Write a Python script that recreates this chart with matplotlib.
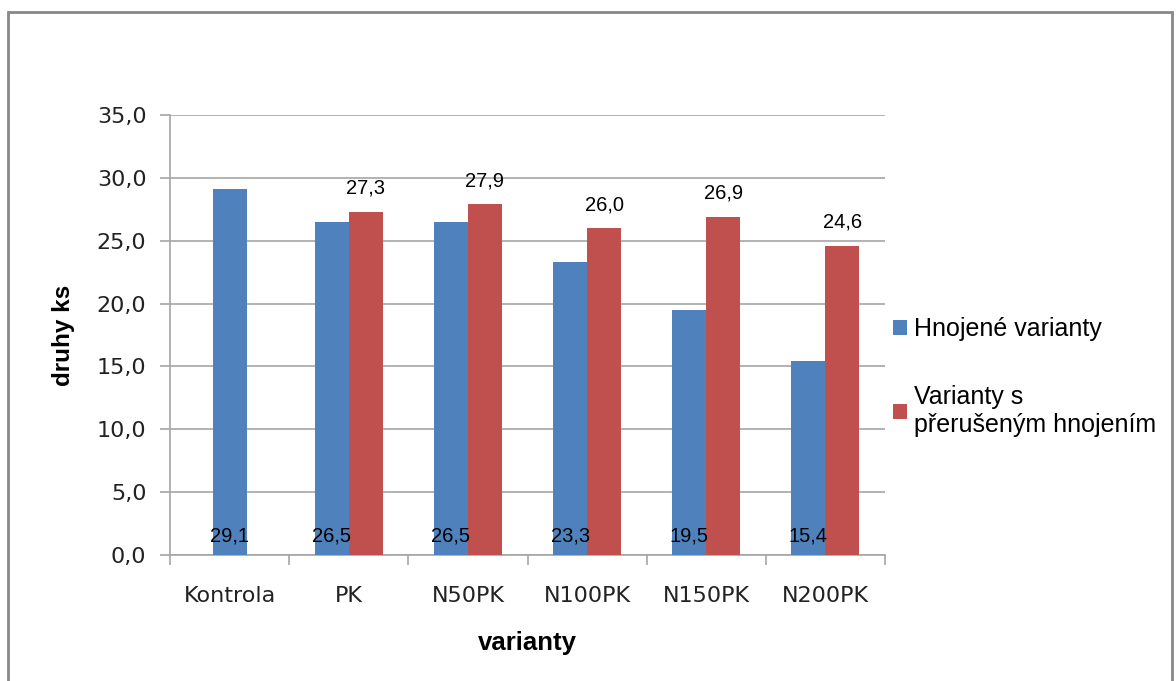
import numpy as np
import matplotlib.pyplot as plt
from matplotlib.patches import Rectangle

# data
categories = ['Kontrola', 'PK', 'N50PK', 'N100PK', 'N150PK', 'N200PK']
hnojene = [29.1, 26.5, 26.5, 23.3, 19.5, 15.4]
preruseno = [np.nan, 27.3, 27.9, 26.0, 26.9, 24.6]
series_names = ['Hnojené varianty', 'Varianty s\npřerušeným hnojením']

blue = '#4F81BD'
red = '#C0504D'
gridc = '#A6A6A6'

fig = plt.figure(figsize=(11.76, 6.81), dpi=100)
ax = fig.add_axes([170/1176, 1-555/681, (885-170)/1176, (555-115)/681])

x = np.arange(len(categories))
w = 0.285
pos_b = x.astype(float)
pos_b[1:] = x[1:] - w/2
pos_r = x + w/2

ax.bar(pos_b, hnojene, w, color=blue, label=series_names[0], zorder=3)
ax.bar(pos_r, preruseno, w, color=red, label=series_names[1], zorder=3)

# popisky hodnot
for xi, v in zip(pos_b, hnojene):
    ax.annotate(f'{v:.1f}'.replace('.', ','), (xi, 0), xytext=(0, 7), textcoords='offset points',
                ha='center', va='bottom', fontsize=14.5, family='Liberation Sans', zorder=4)
for xi, v in zip(pos_r, preruseno):
    if not np.isnan(v):
        ax.annotate(f'{v:.1f}'.replace('.', ','), (xi, v), xytext=(0, 10), textcoords='offset points',
                    ha='center', va='bottom', fontsize=14.5, family='Liberation Sans', zorder=4)

ax.set_ylim(0, 35)
ax.set_xlim(-0.5, len(categories) - 0.5)
yt = np.arange(0, 36, 5)
ax.set_yticks(yt)
ax.set_yticklabels([f'{t:.1f}'.replace('.', ',') for t in yt], fontsize=16, color='#222222')
ax.yaxis.grid(True, color=gridc, linewidth=1.2, zorder=0)
ax.set_xticks(x)
ax.set_xticklabels(categories, fontsize=16, color='#222222')
ax.set_xticks(np.arange(-0.5, len(categories)), minor=True)
ax.tick_params(axis='x', which='major', length=0, pad=22)
ax.tick_params(axis='x', which='minor', length=7, color=gridc, width=1.2)
ax.tick_params(axis='y', length=7, color=gridc, width=1.2, pad=10)

for s in ['top', 'right']:
    ax.spines[s].set_visible(False)
for s in ['left', 'bottom']:
    ax.spines[s].set_color(gridc)
    ax.spines[s].set_linewidth(1.2)

ax.set_xlabel('varianty', fontsize=18.5, fontweight='bold', family='Liberation Sans', labelpad=18)
ax.set_ylabel('druhy ks', fontsize=17.5, fontweight='bold', family='Liberation Sans', labelpad=16)

ax.legend(loc='upper left', bbox_to_anchor=(0.99, 0.575), frameon=False,
          prop={'family': 'Liberation Sans', 'size': 18}, handlelength=0.55,
          handleheight=0.55, handletextpad=0.3, labelspacing=1.75, borderaxespad=0.2)

# ramecek grafu
fig.patches.append(Rectangle((8/1176, -0.1), (1172-8)/1176, 1.1 - 12/681,
                             transform=fig.transFigure, fill=False,
                             edgecolor='#888888', linewidth=2, zorder=10))

fig.savefig('out.png', dpi=100)
